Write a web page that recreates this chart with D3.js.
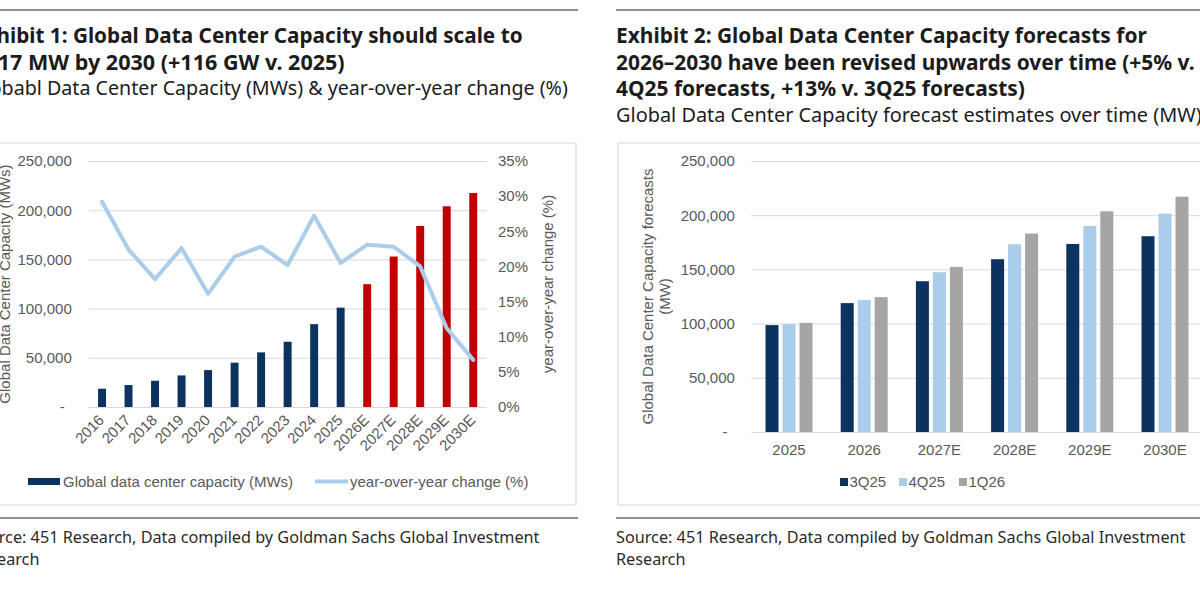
<!DOCTYPE html>
<html>
<head>
<meta charset="utf-8">
<script src="https://cdn.jsdelivr.net/npm/d3@7"></script>
<style>
  html, body { margin: 0; padding: 0; background: #ffffff; overflow: hidden; }
  svg { display: block; }
</style>
</head>
<body>
<svg id="chart" width="1200" height="590"></svg>
<script>
// ---------------- DATA ----------------
// Exhibit 1
const years = ["2016","2017","2018","2019","2020","2021","2022","2023","2024","2025","2026E","2027E","2028E","2029E","2030E"];
const capacityMW = [18600, 22300, 26700, 32100, 37500, 45000, 55500, 66300, 84200, 101000, 124800, 152900, 184000, 204000, 217500];
const yoyChange = [0.292, 0.224, 0.182, 0.226, 0.161, 0.214, 0.228, 0.202, 0.272, 0.205, 0.231, 0.228, 0.200, 0.112, 0.067];
const leftTicks = [0, 50000, 100000, 150000, 200000, 250000];
const pctTicks = [0, 0.05, 0.10, 0.15, 0.20, 0.25, 0.30, 0.35];

// Exhibit 2
const forecastYears = ["2025","2026","2027E","2028E","2029E","2030E"];
const seriesNames = ["3Q25","4Q25","1Q26"];
const est3Q25 = [98600, 118900, 139100, 159400, 173500, 180600];
const est4Q25 = [99500, 121600, 147400, 173200, 190100, 201500];
const est1Q26 = [100700, 124400, 152300, 183000, 203600, 217100];
const rightTicks = [0, 50000, 100000, 150000, 200000, 250000];

// Texts
const title1 = ["Exhibit 1: Global Data Center Capacity should scale to", "217 MW by 2030 (+116 GW v. 2025)"];
const sub1 = "Globabl Data Center Capacity (MWs) & year-over-year change (%)";
const title2 = ["Exhibit 2: Global Data Center Capacity forecasts for", "2026\u20132030 have been revised upwards over time (+5% v.", "4Q25 forecasts, +13% v. 3Q25 forecasts)"];
const sub2 = "Global Data Center Capacity forecast estimates over time (MW)";
const sourceLines = ["Source: 451 Research, Data compiled by Goldman Sachs Global Investment", "Research"];

// ---------------- STYLE ----------------
const NAVY = "#0c3360", RED = "#c00000", LBLUE = "#a9cdea", GRAY = "#a5a5a5";
const TXT = "#595959", GRID = "#d9d9d9";
const CHART_FONT = "'Liberation Sans', Arial, sans-serif";
const HEAD_FONT = "'Noto Sans', 'Open Sans', sans-serif";

const svg = d3.select("#chart");

function measure(text, weight, size) {
  const t = svg.append("text").attr("font-family", HEAD_FONT).attr("font-weight", weight)
    .attr("font-size", size).text(text);
  const w = t.node().getComputedTextLength();
  t.remove();
  return w;
}
function fitSize(text, weight, target) { return 20 * target / measure(text, weight, 20); }

const titleSize = fitSize(title2[1], 700, 579);
const subSize = fitSize(sub2, 400, 586);
const srcSize = fitSize(sourceLines[0], 400, 570);

// rules and boxes
[[0, 578], [616, 1200]].forEach(([a, b]) => {
  [10, 518].forEach(yy => svg.append("line").attr("x1", a).attr("x2", b).attr("y1", yy).attr("y2", yy)
    .attr("stroke", "#6b6b6b").attr("stroke-width", 1.5));
});
[[-27, 603], [618, 620]].forEach(([bx, bw]) => {
  svg.append("rect").attr("x", bx).attr("y", 143).attr("width", bw).attr("height", 362)
    .attr("fill", "none").attr("stroke", "#dcdcdc").attr("stroke-width", 1.2);
});

// Right panel header (left aligned at 616)
title2.forEach((line, i) => {
  svg.append("text").attr("x", 616).attr("y", 43 + i * 26.5)
    .attr("font-family", HEAD_FONT).attr("font-weight", 700).attr("font-size", titleSize)
    .attr("fill", "#1c1c1c").text(line);
});
svg.append("text").attr("x", 616).attr("y", 43 + 3 * 26.5 - 1)
  .attr("font-family", HEAD_FONT).attr("font-size", subSize).attr("fill", "#1c1c1c").text(sub2);

// Left panel header (cropped at the left edge): place each line on a visible word
const leftLines = [
  {text: title1[0], word: "Global", wx: 73, ex: 523, weight: 700, base: titleSize, y: 43},
  {text: title1[1], word: "MW", wx: 28, ex: 345, weight: 700, base: titleSize, y: 69.5},
  {text: sub1, word: "Data", wx: 47, ex: 568, weight: 400, base: subSize, y: 95}
];
leftLines.forEach(l => {
  const idx = l.text.indexOf(l.word);
  const full = measure(l.text, l.weight, 20);
  const suffix = measure(l.text.slice(idx), l.weight, 20);
  let size = 20 * (l.ex - l.wx) / suffix;
  size = Math.max(l.base * 0.94, Math.min(l.base * 1.06, size));
  const startX = l.wx - (full - suffix) * size / 20;
  svg.append("text").attr("x", startX).attr("y", l.y)
    .attr("font-family", HEAD_FONT).attr("font-weight", l.weight).attr("font-size", size)
    .attr("fill", "#1c1c1c").text(l.text);
});

// sources
[-30, 616].forEach(px => {
  sourceLines.forEach((line, i) => {
    svg.append("text").attr("x", px).attr("y", 543 + i * 22)
      .attr("font-family", HEAD_FONT).attr("font-size", srcSize).attr("fill", "#2a2a2a").text(line);
  });
});

// ---------------- EXHIBIT 1 ----------------
(function(){
  const L = 88.75, R = 486.5, B = 407, T = 161;
  const x = d3.scaleBand().domain(years).range([L, R]).paddingInner(0.7).paddingOuter(0.35);
  const yL = d3.scaleLinear().domain([0, 250000]).range([B, T]);
  const yR = d3.scaleLinear().domain([0, 0.35]).range([B, T]);
  const g = svg.append("g");

  const fmt = d => d === 0 ? "-" : d3.format(",")(d);
  const ax = g.append("g").attr("transform", `translate(${L},0)`)
    .call(d3.axisLeft(yL).tickValues(leftTicks).tickSize(-(R - L)).tickPadding(17).tickFormat(fmt));
  ax.select(".domain").remove();
  ax.selectAll(".tick line").attr("stroke", GRID).attr("stroke-width", 1);
  ax.selectAll(".tick text").attr("font-family", CHART_FONT).attr("font-size", 15).attr("fill", TXT);
  ax.selectAll(".tick text").filter(d => d === 0).attr("x", -24);

  const axR = g.append("g").attr("transform", `translate(${R},0)`)
    .call(d3.axisRight(yR).tickValues(pctTicks).tickSize(0).tickPadding(11.5).tickFormat(d3.format(".0%")));
  axR.select(".domain").remove();
  axR.selectAll(".tick text").attr("font-family", CHART_FONT).attr("font-size", 15).attr("fill", TXT);

  g.selectAll("rect.bar").data(years).join("rect").attr("class", "bar")
    .attr("x", d => x(d)).attr("width", x.bandwidth())
    .attr("y", (d, i) => yL(capacityMW[i])).attr("height", (d, i) => B - yL(capacityMW[i]))
    .attr("fill", d => d.endsWith("E") ? RED : NAVY);

  const line = d3.line().x((d, i) => x(years[i]) + x.bandwidth() / 2).y(d => yR(d));
  g.append("path").datum(yoyChange).attr("d", line).attr("fill", "none")
    .attr("stroke", LBLUE).attr("stroke-width", 4).attr("stroke-linejoin", "round").attr("stroke-linecap", "round");

  // rotated category labels
  g.selectAll("text.xl").data(years).join("text").attr("class", "xl")
    .attr("transform", d => `translate(${x(d) + x.bandwidth() / 2 + 3},${B + 14}) rotate(-45)`)
    .attr("text-anchor", "end").attr("font-family", CHART_FONT).attr("font-size", 15).attr("fill", TXT)
    .text(d => d);

  // axis titles
  g.append("text").attr("transform", `translate(5,${(B + T) / 2}) rotate(-90)`).attr("dy", "0.35em")
    .attr("text-anchor", "middle").attr("font-family", CHART_FONT).attr("font-size", 15).attr("fill", TXT)
    .text("Global Data Center Capacity (MWs)");
  g.append("text").attr("transform", `translate(548,${(B + T) / 2}) rotate(-90)`).attr("dy", "0.35em")
    .attr("text-anchor", "middle").attr("font-family", CHART_FONT).attr("font-size", 15).attr("fill", TXT)
    .text("year-over-year change (%)");

  // legend
  const lg = g.append("g");
  lg.append("rect").attr("x", 28).attr("y", 478).attr("width", 32).attr("height", 7).attr("fill", NAVY);
  lg.append("text").attr("x", 63).attr("y", 487).attr("font-family", CHART_FONT).attr("font-size", 15)
    .attr("fill", TXT).text("Global data center capacity (MWs)");
  lg.append("line").attr("x1", 315).attr("x2", 348).attr("y1", 481.5).attr("y2", 481.5)
    .attr("stroke", LBLUE).attr("stroke-width", 4);
  lg.append("text").attr("x", 350).attr("y", 487).attr("font-family", CHART_FONT).attr("font-size", 15)
    .attr("fill", TXT).text("year-over-year change (%)");
})();

// ---------------- EXHIBIT 2 ----------------
(function(){
  const L = 751.4, R = 1202.6, B = 432, T = 161;
  const seriesVals = [est3Q25, est4Q25, est1Q26];
  const colors = [NAVY, LBLUE, GRAY];
  const x0 = d3.scaleBand().domain(forecastYears).range([L, R]).paddingInner(0.375).paddingOuter(0.1875);
  const x1 = d3.scaleBand().domain(seriesNames).range([0, x0.bandwidth()]).paddingInner(0.235);
  const y = d3.scaleLinear().domain([0, 250000]).range([B, T]);
  const g = svg.append("g");

  const fmt = d => d === 0 ? "-" : d3.format(",")(d);
  const ax = g.append("g").attr("transform", `translate(${L},0)`)
    .call(d3.axisLeft(y).tickValues(rightTicks).tickSize(-(1240 - L)).tickPadding(16.5).tickFormat(fmt));
  ax.select(".domain").remove();
  ax.selectAll(".tick line").attr("stroke", GRID).attr("stroke-width", 1);
  ax.selectAll(".tick text").attr("font-family", CHART_FONT).attr("font-size", 15).attr("fill", TXT);
  ax.selectAll(".tick text").filter(d => d === 0).attr("x", -24);

  const groups = g.selectAll("g.grp").data(forecastYears).join("g").attr("class", "grp")
    .attr("transform", d => `translate(${x0(d)},0)`);
  groups.selectAll("rect").data((d, i) => seriesNames.map((s, k) => ({s, k, v: seriesVals[k][i]})))
    .join("rect").attr("x", d => x1(d.s)).attr("width", x1.bandwidth())
    .attr("y", d => y(d.v)).attr("height", d => B - y(d.v)).attr("fill", d => colors[d.k]);

  const xa = g.append("g").attr("transform", `translate(0,${B})`)
    .call(d3.axisBottom(x0).tickSize(0).tickPadding(12));
  xa.select(".domain").remove();
  xa.selectAll(".tick text").attr("font-family", CHART_FONT).attr("font-size", 15).attr("fill", TXT);

  const yt = g.append("text").attr("transform", `translate(656,${(B + T) / 2}) rotate(-90)`)
    .attr("text-anchor", "middle").attr("font-family", CHART_FONT).attr("font-size", 15).attr("fill", TXT);
  yt.append("tspan").attr("x", 0).attr("dy", "-0.2em").text("Global Data Center Capacity forecasts");
  yt.append("tspan").attr("x", 0).attr("dy", "1.1em").text("(MW)");

  // legend
  const legX = [840, 899, 959];
  seriesNames.forEach((s, k) => {
    g.append("rect").attr("x", legX[k]).attr("y", 478).attr("width", 8).attr("height", 8).attr("fill", colors[k]);
    g.append("text").attr("x", legX[k] + 9.5).attr("y", 487).attr("font-family", CHART_FONT).attr("font-size", 15)
      .attr("fill", TXT).text(s);
  });
})();
</script>
</body>
</html>
